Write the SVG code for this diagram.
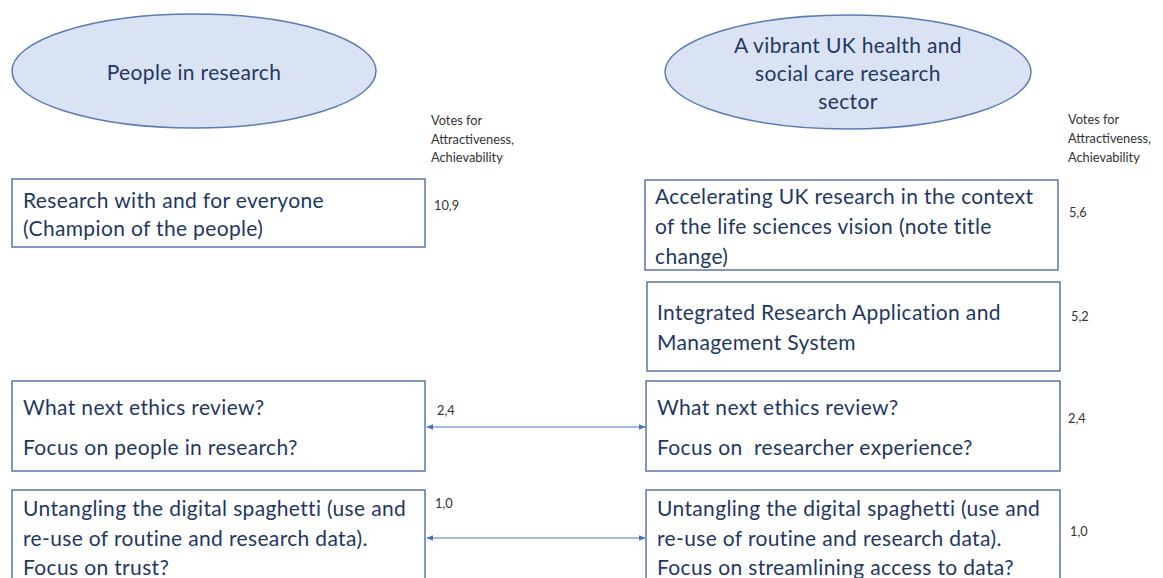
<svg xmlns="http://www.w3.org/2000/svg" width="1163" height="578" viewBox="0 0 1163 578">
  <style>
    .ell { fill: #dae3f3; stroke: #5b7bb4; stroke-width: 1.5; }
    .box { fill: #ffffff; stroke: #5b74a8; stroke-width: 1.5; }
    .t { font-family: Lato, "Liberation Sans", sans-serif; font-size: 21px; letter-spacing: 0.35px; fill: #1f3763; }
    .tc { text-anchor: middle; }
    .v { font-family: Lato, "Liberation Sans", sans-serif; font-size: 12.8px; fill: #333333; }
    .conn { stroke: #4472c4; stroke-width: 1.2; fill: none; marker-start: url(#ah); marker-end: url(#ah); }
  </style>
  <defs>
    <marker id="ah" viewBox="0 0 10 10" refX="9" refY="5" markerWidth="7" markerHeight="7" orient="auto-start-reverse" markerUnits="userSpaceOnUse">
      <path d="M0,1 L10,5 L0,9 z" fill="#4472c4"/>
    </marker>
  </defs>
  <rect width="1163" height="578" fill="#ffffff"/>

  <!-- theme headers -->
  <g id="theme-people">
    <ellipse class="ell" cx="194" cy="71" rx="182" ry="57"/>
    <text class="t tc" x="194" y="80">People in research</text>
  </g>
  <g id="theme-sector">
    <ellipse class="ell" cx="848" cy="72" rx="183" ry="57"/>
    <text class="t tc" x="848" y="53">A vibrant UK health and</text>
    <text class="t tc" x="848" y="81">social care research</text>
    <text class="t tc" x="848" y="109">sector</text>
  </g>

  <!-- column captions -->
  <g id="votes-left">
    <text class="v" x="431" y="125">Votes for</text>
    <text class="v" x="431" y="144">Attractiveness,</text>
    <text class="v" x="431" y="162">Achievability</text>
  </g>
  <g id="votes-right">
    <text class="v" x="1068" y="124">Votes for</text>
    <text class="v" x="1068" y="143">Attractiveness,</text>
    <text class="v" x="1068" y="162">Achievability</text>
  </g>

  <!-- left column -->
  <g id="everyone">
    <rect class="box" x="12" y="179" width="413" height="68"/>
    <text class="t" x="23" y="208">Research with and for everyone</text>
    <text class="t" x="23" y="236">(Champion of the people)</text>
    <text class="v" x="434" y="210">10,9</text>
  </g>
  <g id="ethics-people">
    <rect class="box" x="12" y="381" width="413" height="90"/>
    <text class="t" x="23" y="415">What next ethics review?</text>
    <text class="t" x="23" y="455">Focus on people in research?</text>
    <text class="v" x="437" y="415">2,4</text>
  </g>
  <g id="data-trust">
    <rect class="box" x="12" y="490" width="413" height="100"/>
    <text class="t" x="23" y="516">Untangling the digital spaghetti (use and</text>
    <text class="t" x="23" y="546">re-use of routine and research data).</text>
    <text class="t" x="23" y="575">Focus on trust?</text>
    <text class="v" x="435" y="508">1,0</text>
  </g>

  <!-- right column -->
  <g id="accelerating">
    <rect class="box" x="645" y="180" width="413" height="90"/>
    <text class="t" x="655" y="204">Accelerating UK research in the context</text>
    <text class="t" x="655" y="234">of the life sciences vision (note title</text>
    <text class="t" x="655" y="264">change)</text>
    <text class="v" x="1069" y="217">5,6</text>
  </g>
  <g id="iras">
    <rect class="box" x="647" y="282" width="413" height="89"/>
    <text class="t" x="657" y="320">Integrated Research Application and</text>
    <text class="t" x="657" y="350">Management System</text>
    <text class="v" x="1071" y="321">5,2</text>
  </g>
  <g id="ethics-researcher">
    <rect class="box" x="646" y="381" width="414" height="90"/>
    <text class="t" x="657" y="415" xml:space="preserve">What next ethics review?</text>
    <text class="t" x="657" y="455" xml:space="preserve">Focus on  researcher experience?</text>
    <text class="v" x="1068" y="423">2,4</text>
  </g>
  <g id="data-access">
    <rect class="box" x="646" y="490" width="414" height="100"/>
    <text class="t" x="657" y="516">Untangling the digital spaghetti (use and</text>
    <text class="t" x="657" y="546">re-use of routine and research data).</text>
    <text class="t" x="657" y="575">Focus on streamlining access to data?</text>
    <text class="v" x="1070" y="536">1,0</text>
  </g>

  <!-- links between matching topics -->
  <g id="connectors">
    <line class="conn" x1="427" y1="427" x2="645" y2="427"/>
    <line class="conn" x1="427" y1="538" x2="645" y2="538"/>
  </g>
</svg>
